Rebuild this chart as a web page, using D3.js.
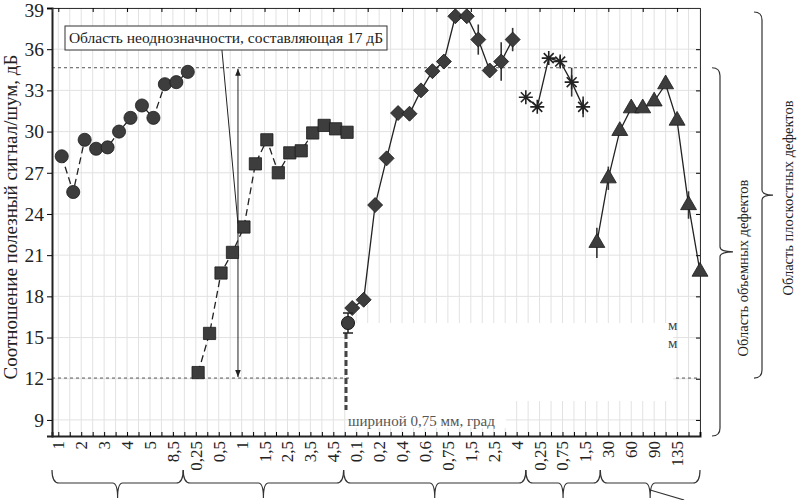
<!DOCTYPE html>
<html>
<head>
<meta charset="utf-8">
<script src="https://cdn.jsdelivr.net/npm/d3@7"></script>
<style>
  body { margin: 0; background: #fff; }
  svg text { font-family: "Liberation Serif", "Times New Roman", serif; fill: #222; }
</style>
</head>
<body>
<div id="chart"></div>
<script>
// category axis: labels sit on every second tick
const xLabels = ["1","2","3","4","5","8,5","0,25","0,5","1","1,5","2,5","3,5","4,5",
  "0,1","0,2","0,4","0,6","0,75","1,5","2,5","4","0,25","0,75","1,5","30","60","90","135"];
const yTicks = [9, 12, 15, 18, 21, 24, 27, 30, 33, 36, 39];

// series values (dB); start = position of first point on the tick axis
const circleStart = 0.3;
const circleVals = [28.2, 25.6, 29.4, 28.75, 28.85, 30.0, 31.0, 31.9, 31.0, 33.45, 33.6, 34.35];
const circleErr  = [0, 0, 0, 0, 0, 0, 0, 0, 0, 0, 0, 0];

const squareStart = 12.2;
const squareVals = [12.45, 15.3, 19.7, 21.2, 23.05, 27.65, 29.4, 27.0, 28.45, 28.6, 29.9, 30.45, 30.2, 29.95];
const squareErr  = [0, 0, 0, 0, 0, 0, 0, 0, 0, 0, 0, 0, 0, 0];

const diamondStart = 25.65;
const diamondVals = [17.15, 17.75, 24.65, 28.05, 31.35, 31.3, 33.0, 34.4, 35.1, 38.4, 38.4, 36.7, 34.45, 35.1, 36.7];
const diamondErr  = [0, 0, 0, 0, 0, 0, 0, 0, 0, 0, 0, 1.1, 0, 1.4, 0.85];

const starStart = 40.8;
const starVals = [32.5, 31.8, 35.35, 35.1, 33.6, 31.8];
const starErr  = [0, 0, 0, 0.4, 1.05, 0.75];

const triStart = 47.0;
const triVals = [21.9, 26.6, 30.05, 31.7, 31.7, 32.2, 33.45, 30.8, 24.65, 19.8];
const triErr  = [1.1, 0.85, 0, 0, 0, 0, 0, 0, 1.0, 0];

// ambiguity band limits (dB)
const bandTop = 34.65;
const bandBottom = 12.05;

// group boundaries under the axis, in tick units
const groupEdges = [-0.55, 10.9, 24.9, 40.8, 47.3, 56];

const width = 798, height = 500;
const margin = {top: 8, right: 98, bottom: 64, left: 52};
const iw = width - margin.left - margin.right;
const ih = height - margin.top - margin.bottom;

const svg = d3.select("#chart").append("svg")
    .attr("width", width)
    .attr("height", height);
const g = svg.append("g")
    .attr("transform", `translate(${margin.left},${margin.top})`);

const x = d3.scaleLinear().domain([-0.55, 56]).range([0, iw]);
const y = d3.scaleLinear().domain([7.83, 39]).range([ih, 0]);

// grid
g.append("g").selectAll("line").data(d3.range(0, 57)).join("line")
    .attr("x1", d => x(d)).attr("x2", d => x(d))
    .attr("y1", 0).attr("y2", ih)
    .attr("stroke", "#e2e2e2");
g.append("g").selectAll("line").data(yTicks).join("line")
    .attr("x1", 0).attr("x2", iw)
    .attr("y1", d => y(d)).attr("y2", d => y(d))
    .attr("stroke", "#e2e2e2");

// band lines
g.selectAll(".band").data([bandTop, bandBottom]).join("line")
    .attr("class", "band")
    .attr("x1", 0).attr("x2", iw)
    .attr("y1", d => y(d)).attr("y2", d => y(d))
    .attr("stroke", "#555").attr("stroke-dasharray", "3,3");

// axes
const axL = g.append("g").call(d3.axisLeft(y).tickValues(yTicks).tickSize(5).tickPadding(3));
axL.selectAll("text").style("font-size", "19.5px")
    .attr("dy", d => d === 39 ? "0.42em" : "0.32em");
axL.select(".domain").attr("stroke-width", 2).attr("stroke", "#222");

g.append("g").attr("transform", `translate(${iw},0)`)
    .call(d3.axisRight(y).tickValues(yTicks).tickSize(-4).tickFormat(""))
    .select(".domain").attr("stroke", "#333");

g.append("g")
    .call(d3.axisTop(x).tickValues(d3.range(0, 57, 3)).tickSize(-4).tickFormat(""))
    .select(".domain").attr("stroke", "#333");

const axB = g.append("g").attr("transform", `translate(0,${ih})`)
    .call(d3.axisBottom(x).tickValues(d3.range(0, 57)).tickSize(-4).tickFormat(""));
axB.select(".domain").attr("stroke-width", 2).attr("stroke", "#222");

g.append("g").attr("transform", `translate(0,${ih})`)
    .call(d3.axisBottom(x).tickValues(d3.range(0, 56, 2)).tickSize(0).tickFormat((d, i) => xLabels[i]))
    .call(a => a.select(".domain").remove())
    .selectAll("text")
      .style("font-size", "17px")
      .attr("transform", "rotate(-90)")
      .attr("text-anchor", "end")
      .attr("x", -5).attr("y", 0).attr("dy", "0.32em");

// y title
svg.append("text")
    .attr("transform", `translate(17,217) rotate(-90)`)
    .attr("text-anchor", "middle")
    .style("font-size", "19px")
    .text("Соотношение полезный сигнал/шум, дБ");

// annotation box with leader line and double arrow
svg.append("defs").append("marker")
    .attr("id", "ah").attr("viewBox", "0 0 10 10")
    .attr("refX", 10).attr("refY", 5)
    .attr("markerWidth", 7).attr("markerHeight", 7)
    .attr("orient", "auto-start-reverse")
  .append("path").attr("d", "M0,1L10,5L0,9Z").attr("fill", "#222");

const arrowX = 15.68;
g.append("line")
    .attr("x1", x(arrowX)).attr("x2", x(arrowX))
    .attr("y1", y(bandTop) + 1).attr("y2", y(bandBottom) - 1)
    .attr("stroke", "#222").attr("stroke-width", 1)
    .attr("marker-start", "url(#ah)").attr("marker-end", "url(#ah)");
g.append("line")
    .attr("x1", x(14.28)).attr("y1", 42)
    .attr("x2", x(arrowX)).attr("y2", y(23.3))
    .attr("stroke", "#222").attr("stroke-width", 1);

svg.append("rect")
    .attr("x", 65).attr("y", 26).attr("width", 322).attr("height", 24)
    .attr("fill", "#fff").attr("stroke", "#333");
svg.append("text")
    .attr("x", 226).attr("y", 43)
    .attr("text-anchor", "middle")
    .style("font-size", "15.5px")
    .text("Область неоднозначности, составляющая 17 дБ");

// series
const series = [
  {start: circleStart, vals: circleVals, err: circleErr, dash: "7,4", shape: "circle"},
  {start: squareStart, vals: squareVals, err: squareErr, dash: "7,4", shape: "square"},
  {start: diamondStart, vals: diamondVals, err: diamondErr, dash: null, shape: "diamond"},
  {start: starStart, vals: starVals, err: starErr, dash: null, shape: "star"},
  {start: triStart, vals: triVals, err: triErr, dash: null, shape: "triangle"}
].map(s => ({...s, pts: s.vals.map((v, i) => ({x: s.start + i, v, e: s.err[i]}))}));

const line = d3.line().x(d => x(d.x)).y(d => y(d.v));

series.forEach(s => {
  g.append("path")
      .datum(s.pts)
      .attr("d", line)
      .attr("fill", "none")
      .attr("stroke", "#222")
      .attr("stroke-width", 1.3)
      .attr("stroke-dasharray", s.dash);
  g.append("g").selectAll("line").data(s.pts.filter(d => d.e > 0)).join("line")
      .attr("x1", d => x(d.x)).attr("x2", d => x(d.x))
      .attr("y1", d => y(d.v - d.e)).attr("y2", d => y(d.v + d.e))
      .attr("stroke", "#333").attr("stroke-width", 1.6);
});

function starPath(r) {
  const p = d3.path();
  const a = r * Math.SQRT1_2;
  p.moveTo(-r, 0); p.lineTo(r, 0);
  p.moveTo(0, -r); p.lineTo(0, r);
  p.moveTo(-a, -a); p.lineTo(a, a);
  p.moveTo(-a, a); p.lineTo(a, -a);
  return p.toString();
}

const shapes = {
  circle: d3.symbol(d3.symbolCircle, 135)(),
  square: d3.symbol(d3.symbolSquare, 150)(),
  diamond: d3.symbol(d3.symbolSquare, 112)(),
  triangle: d3.symbol(d3.symbolTriangle, 110)(),
  star: starPath(7)
};

series.forEach(s => {
  g.append("g").selectAll("path").data(s.pts).join("path")
      .attr("transform", d => `translate(${x(d.x)},${y(d.v)})` + (s.shape === "diamond" ? " rotate(45)" : ""))
      .attr("d", shapes[s.shape])
      .attr("fill", s.shape === "star" ? "none" : "#3d3d3d")
      .attr("stroke", s.shape === "star" ? "#222" : "#1c1c1c")
      .attr("stroke-width", s.shape === "star" ? 1.6 : 0.8);
});

// legend, mostly covered by a white patch in the source
const lg = svg.append("g");
lg.append("rect").attr("x", 349).attr("y", 323).attr("width", 324).attr("height", 78).attr("fill", "#fff");
lg.append("rect").attr("x", 349).attr("y", 400).attr("width", 157).attr("height", 28).attr("fill", "#fff");
lg.append("line").attr("x1", 346).attr("x2", 346).attr("y1", 333).attr("y2", 410)
    .attr("stroke", "#444").attr("stroke-width", 3).attr("stroke-dasharray", "6,3");
lg.append("line").attr("x1", 348).attr("x2", 348).attr("y1", 313).attr("y2", 333).attr("stroke", "#222").attr("stroke-width", 1.5);
lg.selectAll(".cap").data([313, 333]).join("line")
    .attr("x1", 343).attr("x2", 353).attr("y1", d => d).attr("y2", d => d)
    .attr("stroke", "#222").attr("stroke-width", 1.5);
lg.append("path").attr("transform", "translate(348,323)").attr("d", shapes.circle)
    .attr("fill", "#3d3d3d").attr("stroke", "#1c1c1c");
lg.selectAll(".frag").data([{t: "м", y: 330}, {t: "м", y: 348}]).join("text")
    .attr("x", 668).attr("y", d => d.y).style("font-size", "15px").style("fill", "#444").text(d => d.t);
lg.append("text").attr("x", 348).attr("y", 426).style("font-size", "15px").style("fill", "#555")
    .text("шириной 0,75 мм, град");

// group braces under the axis
function hBrace(x1, x2, yy) {
  const m = (x1 + x2) / 2;
  return `M${x1},${yy - 13} Q${x1},${yy} ${x1 + 7},${yy} L${m - 5},${yy} Q${m},${yy} ${m},${yy + 15}` +
         ` Q${m},${yy} ${m + 5},${yy} L${x2 - 7},${yy} Q${x2},${yy} ${x2},${yy - 13}`;
}
const braces = svg.append("g").attr("fill", "none").attr("stroke", "#333").attr("stroke-width", 1.2);
d3.pairs(groupEdges).forEach(([a, b]) => {
  braces.append("path").attr("d", hBrace(margin.left + x(a), margin.left + x(b), 483));
});
const lastMid = margin.left + (x(groupEdges[4]) + x(groupEdges[5])) / 2;
braces.append("line").attr("x1", lastMid).attr("y1", 490).attr("x2", lastMid + 34).attr("y2", 500);

// side braces
function vBrace(xx, y1, y2, dir) {
  const m = (y1 + y2) / 2;
  return `M${xx - 8},${y1} Q${xx},${y1} ${xx},${y1 + 8} L${xx},${m - 5} Q${xx},${m} ${xx + dir},${m}` +
         ` Q${xx},${m} ${xx},${m + 5} L${xx},${y2 - 8} Q${xx},${y2} ${xx - 8},${y2}`;
}
braces.append("path").attr("d", vBrace(720, margin.top + y(bandTop), margin.top + ih, 13));
braces.append("path").attr("d", vBrace(762, 12, margin.top + y(bandBottom), 11));

svg.append("text")
    .attr("transform", "translate(748,268) rotate(-90)")
    .attr("text-anchor", "middle")
    .style("font-size", "14.5px")
    .text("Область объемных дефектов");
svg.append("text")
    .attr("transform", "translate(793,198) rotate(-90)")
    .attr("text-anchor", "middle")
    .style("font-size", "14.5px")
    .text("Область плоскостных дефектов");
</script>
</body>
</html>
